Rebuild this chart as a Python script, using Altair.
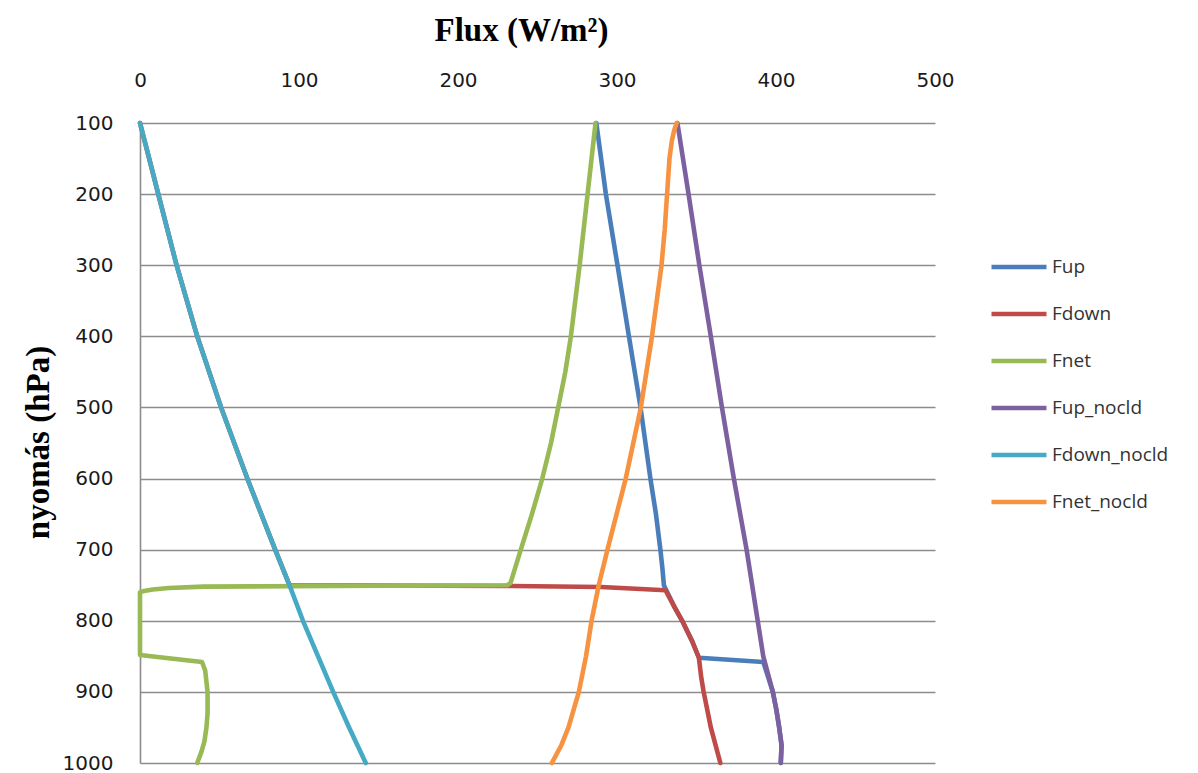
import altair as alt
import pandas as pd

# ---- data ----
series_order = ["Fup", "Fdown", "Fnet", "Fup_nocld", "Fdown_nocld", "Fnet_nocld"]
series_colors = ["#4A7EBB", "#BE4B48", "#98B954", "#7D60A0", "#46AAC5", "#F69240"]

fup_p = [100, 150, 200, 300, 400, 500, 600, 650, 700, 725, 750, 757, 780, 800, 830, 852,
         858, 900, 925, 950, 975, 1000]
fup_v = [287, 290, 293, 300.3, 307.5, 314.8, 321, 324.5, 327.3, 328.5, 329.5, 331, 336, 341, 347.5, 351.5,
         392, 398, 400.2, 402, 403.5, 403]

fdown_p = [100, 200, 300, 400, 500, 600, 700, 750, 751, 752.5, 757, 780, 800, 830, 852,
           880, 900, 950, 1000]
fdown_v = [0, 11.5, 23, 36, 51, 67.5, 85, 94, 234, 290, 330.5, 336, 341, 347.5, 351.5,
           353, 354.5, 359, 365]

fnet_p = [100, 150, 200, 300, 400, 450, 500, 550, 600, 650, 700, 747, 750, 751, 752, 754, 756,
          758, 760, 848, 858, 870, 900, 930, 950, 970, 985, 1000]
fnet_v = [286.5, 284, 281.5, 276.5, 271, 267.5, 263, 258.5, 253, 246.5, 239.5, 233, 231, 120, 40,
          18, 8, 2.5, 0, 0, 39, 41, 42.5, 42.5, 41.8, 40.5, 38.5, 36]

fupn_p = [100, 200, 300, 400, 500, 600, 700, 750, 800, 850, 900, 925, 950, 975, 1000]
fupn_v = [338, 345, 351.8, 359, 366, 373.5, 381.5, 385, 388.5, 392, 398, 400.2, 402, 403.5, 403]

fdownn_p = [100, 150, 200, 300, 400, 500, 600, 700, 750, 800, 850, 900, 950, 1000]
fdownn_v = [0, 5.8, 11.5, 23, 36, 51, 67.5, 85, 94, 102.5, 112, 121.5, 131.5, 142]

fnetn_p = [100, 110, 125, 150, 200, 250, 300, 400, 500, 600, 700, 750, 800, 850, 900, 950,
           975, 1000]
fnetn_v = [337.5, 336, 334.5, 333, 331.5, 330, 328, 322, 315, 305.5, 294, 288.5, 284, 280.5,
           276, 269.5, 265, 259]

x_ticks = [0, 100, 200, 300, 400, 500]
y_ticks = [100, 200, 300, 400, 500, 600, 700, 800, 900, 1000]

pairs = {
    "Fup": (fup_p, fup_v),
    "Fdown": (fdown_p, fdown_v),
    "Fnet": (fnet_p, fnet_v),
    "Fup_nocld": (fupn_p, fupn_v),
    "Fdown_nocld": (fdownn_p, fdownn_v),
    "Fnet_nocld": (fnetn_p, fnetn_v),
}

rows = []
for s in series_order:
    ps, vs = pairs[s]
    for i, (p, v) in enumerate(zip(ps, vs)):
        rows.append({"series": s, "idx": i, "p": p, "flux": v})
df = pd.DataFrame(rows)

color_scale = alt.Scale(domain=series_order, range=series_colors)

x_enc = alt.X(
    "flux:Q",
    scale=alt.Scale(domain=[0, 500], nice=False, zero=False),
    axis=alt.Axis(
        orient="top", values=x_ticks, grid=False, ticks=False, domain=False, format="d",
        labelFont="DejaVu Sans", labelFontSize=20, labelColor="#1a1a1a",
        labelPadding=33, labelFlush=False,
        title="Flux (W/m²)", titleFont="Liberation Serif", titleFontSize=33,
        titleFontWeight="bold", titleColor="#000",
        titleX=381, titleY=-83, titleAlign="center", titleBaseline="alphabetic",
    ),
)
y_enc = alt.Y(
    "p:Q",
    scale=alt.Scale(domain=[100, 1000], reverse=True, nice=False, zero=False),
    axis=alt.Axis(
        values=y_ticks, grid=True, gridColor="#8c8c8c", gridWidth=1.6, format="d",
        domain=True, domainColor="#8c8c8c", domainWidth=1.6, ticks=False,
        labelFont="DejaVu Sans", labelFontSize=20, labelColor="#1a1a1a",
        labelPadding=27, labelFlush=False,
        title="nyomás (hPa)", titleFont="Liberation Serif", titleFontSize=33,
        titleFontWeight="bold", titleColor="#000",
        titleX=-102, titleY=319, titleAlign="center", titleBaseline="middle",
        titleAngle=-90,
    ),
)

layers = []
for k, s in enumerate(series_order):
    if k == 0:
        color = alt.Color(
            "series:N", scale=color_scale,
            legend=alt.Legend(
                title=None, orient="none", legendX=849, legendY=114,
                symbolType="stroke", symbolSize=3025, symbolStrokeWidth=4.5,
                labelFont="Open Sans", labelFontSize=19, labelColor="#333333",
                labelOffset=3, rowPadding=7,
            ),
        )
        enc = dict(x=x_enc, y=y_enc)
    else:
        color = alt.Color("series:N", scale=color_scale, legend=None)
        enc = dict(x=alt.X("flux:Q"), y=alt.Y("p:Q"))
    layers.append(
        alt.Chart(df)
        .transform_filter(alt.datum.series == s)
        .mark_line(strokeWidth=4.6, strokeJoin="round", strokeCap="round")
        .encode(order=alt.Order("idx:Q"), color=color, **enc)
    )

chart = (
    alt.layer(*layers)
    .properties(
        width=795, height=640,
        autosize=alt.AutoSizeParams(type="none"),
        padding={"left": 140, "top": 123, "right": 263, "bottom": 10},
        background="#ffffff",
    )
    .configure_view(stroke=None)
)

chart.save("out.html", embed_options={"renderer": "svg", "actions": False})
